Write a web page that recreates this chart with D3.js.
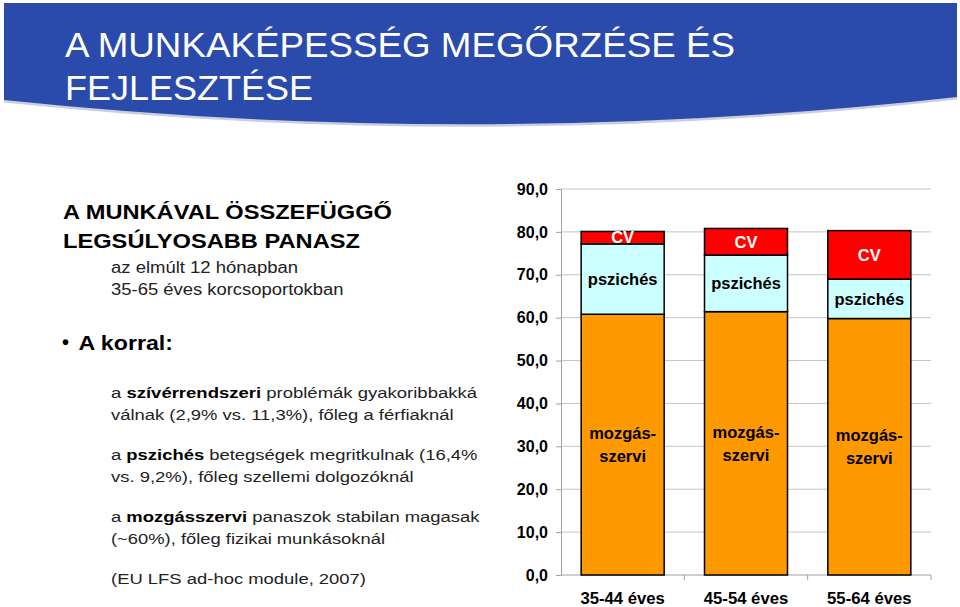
<!DOCTYPE html>
<html>
<head>
<meta charset="utf-8">
<script src="https://cdn.jsdelivr.net/npm/d3@7"></script>
<style>
  body { margin: 0; background: #fff; }
  svg { display: block; font-family: "Liberation Sans", Arial, Helvetica, sans-serif; }
</style>
</head>
<body>
<svg id="c" width="960" height="607"></svg>
<script>
// ---- data ----
const categories = ["35-44 éves", "45-54 éves", "55-64 éves"];
const mozgasszervi = [60.8, 61.4, 59.8];
const pszichesVals = [16.4, 13.2, 9.2];
const cvVals = [2.9, 6.2, 11.3];
const yTickValues = [0, 10, 20, 30, 40, 50, 60, 70, 80, 90];
const seriesNames = ["mozgásszervi", "pszichés", "CV"];
const seriesLabels = [["mozgás-", "szervi"], ["pszichés"], ["CV"]];
const titleLines = ["A MUNKAKÉPESSÉG MEGŐRZÉSE ÉS", "FEJLESZTÉSE"];

const svg = d3.select("#c");

// ---- banner ----
const bannerPath = "M4,3 L957,3 L957,97 Q480,150 4,100 Z";
svg.append("path").attr("d", bannerPath).attr("fill", "#8a93b8").attr("opacity", 0.45)
  .attr("transform", "translate(0,2.5)");
svg.append("path").attr("d", bannerPath).attr("fill", "#2a4bab");

const tl = [{t: titleLines[0], y: 57, w: 670}, {t: titleLines[1], y: 100, w: 248}];
svg.selectAll("text.title").data(tl).join("text")
  .attr("class", "title")
  .attr("x", 65).attr("y", d => d.y)
  .attr("fill", "#fff").attr("font-size", 35)
  .attr("textLength", d => d.w).attr("lengthAdjust", "spacingAndGlyphs")
  .text(d => d.t);

// ---- left text ----
const leftLines = [
  {x: 63, y: 219, size: 21, w: 329, parts: [["A MUNKÁVAL ÖSSZEFÜGGŐ", true]]},
  {x: 63, y: 247.5, size: 21, w: 297, parts: [["LEGSÚLYOSABB PANASZ", true]]},
  {x: 111, y: 273, size: 16, w: 187, parts: [["az elmúlt 12 hónapban", false]]},
  {x: 111, y: 294.5, size: 16, w: 232.5, parts: [["35-65 éves korcsoportokban", false]]},
  {x: 78.5, y: 350, size: 20, w: 94.5, parts: [["A korral:", true]]},
  {x: 111, y: 397.5, size: 15.5, w: 366, parts: [["a ", false], ["szívérrendszeri", true], [" problémák gyakoribbakká", false]]},
  {x: 111, y: 419.5, size: 15.5, w: 342.5, parts: [["válnak (2,9% vs. 11,3%), főleg a férfiaknál", false]]},
  {x: 111, y: 459.5, size: 15.5, w: 366.5, parts: [["a ", false], ["pszichés", true], [" betegségek megritkulnak (16,4%", false]]},
  {x: 111, y: 481.5, size: 15.5, w: 302.5, parts: [["vs. 9,2%), főleg szellemi dolgozóknál", false]]},
  {x: 111, y: 521.5, size: 15.5, w: 368.5, parts: [["a ", false], ["mozgásszervi", true], [" panaszok stabilan magasak", false]]},
  {x: 111, y: 544, size: 15.5, w: 274, parts: [["(~60%), főleg fizikai munkásoknál", false]]},
  {x: 111, y: 583.5, size: 15.5, w: 255, parts: [["(EU LFS ad-hoc module, 2007)", false]]}
];
const lt = svg.selectAll("text.left").data(leftLines).join("text")
  .attr("class", "left")
  .attr("x", d => d.x).attr("y", d => d.y)
  .attr("font-size", d => d.size)
  .attr("textLength", d => d.w).attr("lengthAdjust", "spacingAndGlyphs")
  .attr("fill", "#111");
lt.selectAll("tspan").data(d => d.parts).join("tspan")
  .attr("font-weight", p => p[1] ? "bold" : "normal")
  .attr("fill", p => p[1] ? "#000" : "#222")
  .text(p => p[0]);
// bullet
svg.append("text").attr("x", 62).attr("y", 349).attr("font-size", 20).attr("font-weight", "bold").text("•");

// ---- chart ----
const x0 = 561, x1 = 931, yBottom = 575, yTop = 189;
const x = d3.scaleBand().domain(categories).range([x0, x1]).paddingInner(0.327).paddingOuter(0.1635);
const y = d3.scaleLinear().domain([0, 90]).range([yBottom, yTop]);

// gridlines
svg.append("g").selectAll("line").data(yTickValues.filter(v => v > 0)).join("line")
  .attr("x1", x0).attr("x2", x1)
  .attr("y1", d => y(d)).attr("y2", d => y(d))
  .attr("stroke", "#c4c4c4").attr("stroke-width", 1);

// y axis
const yAxis = d3.axisLeft(y).tickValues(yTickValues).tickSize(5).tickPadding(8)
  .tickFormat(d => d3.format(".1f")(d).replace(".", ","));
const gy = svg.append("g").attr("transform", `translate(${x0},0)`).call(yAxis);
gy.select(".domain").attr("stroke", "#a0a0a0");
gy.selectAll(".tick line").attr("stroke", "#a0a0a0");
gy.selectAll(".tick text").attr("font-size", 16).attr("font-weight", "bold")
  .attr("font-family", "Liberation Sans, Arial, sans-serif").attr("fill", "#000");

// x axis
const xb = d3.scaleLinear().domain([0, 3]).range([x0, x1]);
const xAxisG = svg.append("g");
xAxisG.append("line").attr("x1", x0).attr("x2", x1).attr("y1", yBottom).attr("y2", yBottom).attr("stroke", "#a0a0a0");
xAxisG.selectAll("line.tk").data([1, 2, 3]).join("line").attr("class", "tk")
  .attr("x1", d => xb(d)).attr("x2", d => xb(d)).attr("y1", yBottom).attr("y2", yBottom + 5)
  .attr("stroke", "#a0a0a0");
xAxisG.selectAll("text").data(categories).join("text")
  .attr("x", d => x(d) + x.bandwidth() / 2).attr("y", 603.5)
  .attr("text-anchor", "middle").attr("font-size", 17).attr("font-weight", "bold")
  .attr("textLength", 84.5).attr("lengthAdjust", "spacingAndGlyphs")
  .text(d => d);

// stacked bars
const rows = categories.map((c, i) => ({cat: c, "mozgásszervi": mozgasszervi[i], "pszichés": pszichesVals[i], "CV": cvVals[i]}));
const stack = d3.stack().keys(seriesNames)(rows);
const colors = {"mozgásszervi": "#ff9900", "pszichés": "#ccffff", "CV": "#ff0000"};
const textColors = {"mozgásszervi": "#000", "pszichés": "#000", "CV": "#fff"};

stack.forEach((layer, li) => {
  const g = svg.append("g");
  g.selectAll("rect").data(layer).join("rect")
    .attr("x", d => x(d.data.cat))
    .attr("width", x.bandwidth())
    .attr("y", d => y(d[1]))
    .attr("height", d => y(d[0]) - y(d[1]))
    .attr("fill", colors[layer.key])
    .attr("stroke", "#000").attr("stroke-width", 1.5);
  const labs = seriesLabels[li];
  layer.forEach(d => {
    const cx = x(d.data.cat) + x.bandwidth() / 2;
    const cy = (y(d[0]) + y(d[1])) / 2;
    labs.forEach((t, k) => {
      g.append("text")
        .attr("x", cx)
        .attr("y", cy + (k - (labs.length - 1) / 2) * 23)
        .attr("dy", "0.35em")
        .attr("text-anchor", "middle")
        .attr("font-size", 16.5).attr("font-weight", "bold")
        .attr("fill", textColors[layer.key])
        .text(t);
    });
  });
});
</script>
</body>
</html>
